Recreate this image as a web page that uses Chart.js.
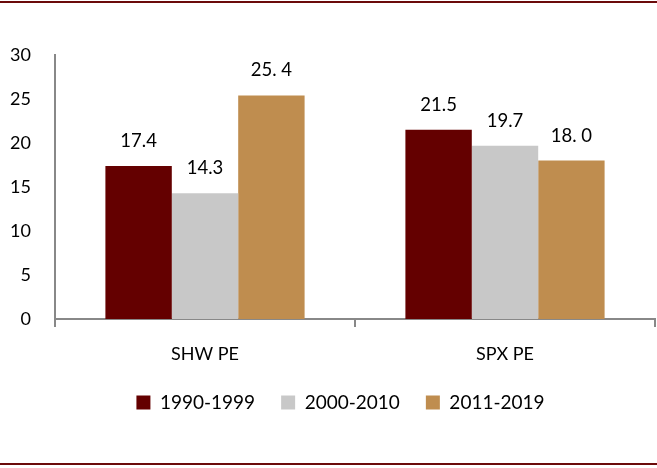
<!DOCTYPE html>
<html><head><meta charset="utf-8">
<script src="https://cdn.jsdelivr.net/npm/chart.js@4.4.0/dist/chart.umd.min.js"></script>
<style>html,body{margin:0;padding:0;background:#fff}#wrap{width:657px;height:468px;position:relative}</style>
</head><body><div id="wrap"><canvas id="c"></canvas></div>
<script>
const categories = ["SHW PE", "SPX PE"];
const seriesNames = ["1990-1999", "2000-2010", "2011-2019"];
const s1990 = [17.4, 21.5];
const s2000 = [14.3, 19.7];
const s2011 = [25.4, 18.0];
const labels1990 = ["17.4", "21.5"];
const labels2000 = ["14.3", "19.7"];
const labels2011 = ["25. 4", "18. 0"];
const yTicks = [0, 5, 10, 15, 20, 25, 30];

const FONT = "Lato, 'Noto Sans', sans-serif";
const borderLines = {
  id: 'borderLines',
  afterDraw(chart) {
    const ctx = chart.ctx;
    ctx.save();
    ctx.fillStyle = '#6b0a0a';
    ctx.fillRect(0, 1, chart.width, 2);
    ctx.fillRect(0, 463, chart.width, 2);
    ctx.restore();
  }
};
const legendShift = {
  id: 'legendShift',
  afterLayout(chart) {
    if (chart.legend) { chart.legend.left += 13; chart.legend.right += 13; }
  }
};
const valueLabels = {
  id: 'valueLabels',
  afterDatasetsDraw(chart) {
    const ctx = chart.ctx;
    ctx.save();
    ctx.font = "18.5px " + FONT;
    ctx.fillStyle = '#000';
    ctx.textAlign = 'center';
    ctx.textBaseline = 'middle';
    chart.data.datasets.forEach((ds, i) => {
      chart.getDatasetMeta(i).data.forEach((bar, j) => {
        ctx.fillText(ds.valueText[j], bar.x, bar.y - 25);
      });
    });
    ctx.restore();
  }
};

new Chart(document.getElementById('c'), {
  type: 'bar',
  data: {
    labels: categories,
    datasets: [
      {label: seriesNames[0], data: s1990, valueText: labels1990, backgroundColor: '#640000'},
      {label: seriesNames[1], data: s2000, valueText: labels2000, backgroundColor: '#c8c8c8'},
      {label: seriesNames[2], data: s2011, valueText: labels2011, backgroundColor: '#bf8d4f'}
    ]
  },
  options: {
    responsive: true,
    maintainAspectRatio: false,
    animation: false,
    datasets: {bar: {categoryPercentage: 0.664, barPercentage: 1.0}},
    layout: {padding: {top: 55, left: 0, right: 2, bottom: 46}},
    plugins: {
      legend: {
        position: 'bottom',
        labels: {font: {size: 19, family: FONT}, color: '#000', boxWidth: 14, boxHeight: 14, padding: 26}
      },
      tooltip: {enabled: false}
    },
    scales: {
      x: {
        grid: {display: true, offset: true, drawOnChartArea: false, drawTicks: true, tickLength: 8, color: '#888', lineWidth: 2},
        border: {display: true, color: '#888', width: 2},
        ticks: {font: {size: 18, family: FONT}, color: '#000', padding: 16},
        afterFit(s) { s.height = 48; }
      },
      y: {
        min: 0, max: 30,
        afterBuildTicks(s) { s.ticks = yTicks.map(v => ({value: v})); },
        grid: {display: false},
        border: {display: true, color: '#888', width: 2},
        ticks: {font: {size: 18, family: FONT}, color: '#000', padding: 16},
        afterFit(s) { s.width = 55; }
      }
    }
  },
  plugins: [borderLines, legendShift, valueLabels]
});
</script></body></html>
